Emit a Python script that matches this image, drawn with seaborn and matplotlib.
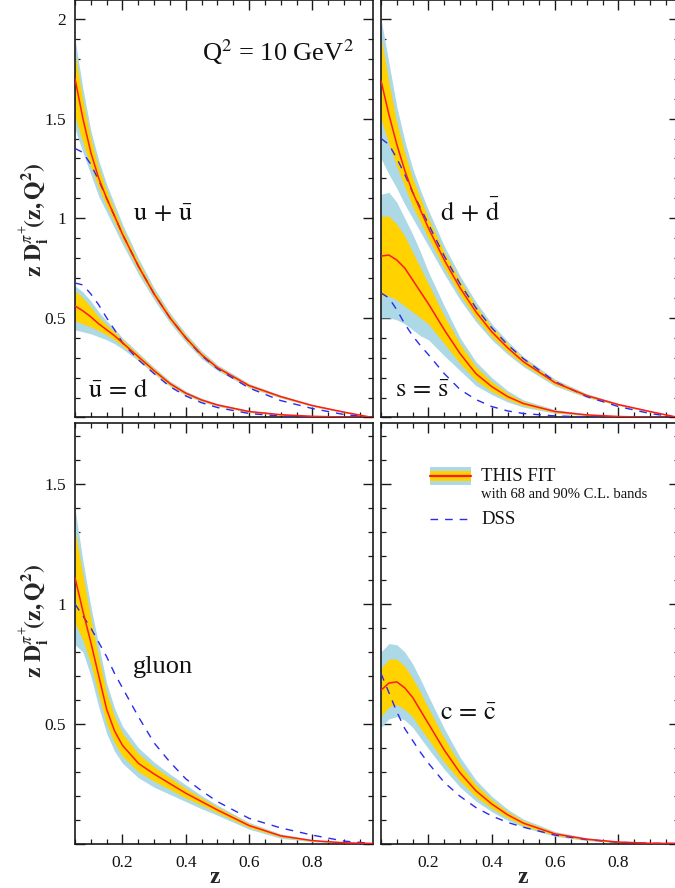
import numpy as np
import matplotlib
matplotlib.use("Agg")
import matplotlib.pyplot as plt
import seaborn as sns
from matplotlib.patches import Rectangle
from matplotlib.lines import Line2D
from matplotlib.ticker import MultipleLocator

# ---------------- data ----------------
z = [0.05, 0.075, 0.1, 0.125, 0.15, 0.175, 0.2, 0.25, 0.3, 0.35, 0.4, 0.45, 0.5, 0.6, 0.7, 0.8, 0.9, 0.99]

# u + ubar
uu_fit  = [1.70, 1.50, 1.33, 1.20, 1.10, 1.01, 0.92, 0.76, 0.62, 0.50, 0.40, 0.315, 0.25, 0.16, 0.105, 0.06, 0.027, 0.0]
uu_68hi = [1.83, 1.59, 1.40, 1.25, 1.14, 1.04, 0.945, 0.78, 0.635, 0.513, 0.412, 0.325, 0.258, 0.166, 0.109, 0.063, 0.029, 0.0]
uu_68lo = [1.51, 1.38, 1.26, 1.15, 1.06, 0.98, 0.895, 0.74, 0.605, 0.487, 0.388, 0.305, 0.242, 0.154, 0.101, 0.057, 0.025, 0.0]
uu_90hi = [1.90, 1.65, 1.44, 1.29, 1.17, 1.07, 0.97, 0.80, 0.65, 0.525, 0.422, 0.335, 0.265, 0.171, 0.112, 0.065, 0.030, 0.0]
uu_90lo = [1.45, 1.33, 1.22, 1.11, 1.03, 0.95, 0.87, 0.72, 0.59, 0.475, 0.378, 0.295, 0.235, 0.149, 0.098, 0.055, 0.024, 0.0]
uu_dss  = [1.35, 1.33, 1.27, 1.19, 1.10, 1.01, 0.92, 0.76, 0.62, 0.50, 0.40, 0.31, 0.245, 0.148, 0.085, 0.045, 0.015, 0.0]

# ubar = d
ub_fit  = [0.56, 0.535, 0.505, 0.47, 0.44, 0.41, 0.375, 0.305, 0.235, 0.17, 0.122, 0.088, 0.063, 0.030, 0.014, 0.006, 0.002, 0.0]
ub_68hi = [0.635, 0.60, 0.555, 0.505, 0.465, 0.43, 0.39, 0.317, 0.245, 0.178, 0.128, 0.093, 0.067, 0.033, 0.016, 0.007, 0.002, 0.0]
ub_68lo = [0.485, 0.47, 0.455, 0.435, 0.415, 0.39, 0.36, 0.293, 0.225, 0.162, 0.116, 0.083, 0.059, 0.027, 0.012, 0.005, 0.001, 0.0]
ub_90hi = [0.66, 0.63, 0.585, 0.53, 0.485, 0.445, 0.40, 0.325, 0.252, 0.184, 0.133, 0.097, 0.070, 0.035, 0.017, 0.008, 0.003, 0.0]
ub_90lo = [0.44, 0.43, 0.42, 0.405, 0.39, 0.37, 0.345, 0.285, 0.218, 0.156, 0.111, 0.079, 0.056, 0.025, 0.011, 0.004, 0.001, 0.0]
ub_dss  = [0.675, 0.665, 0.62, 0.565, 0.50, 0.44, 0.375, 0.29, 0.22, 0.155, 0.108, 0.074, 0.050, 0.020, 0.007, 0.002, 0.0, 0.0]

# d + dbar
dd_fit  = [1.69, 1.52, 1.37, 1.24, 1.13, 1.04, 0.95, 0.79, 0.65, 0.53, 0.43, 0.35, 0.28, 0.175, 0.11, 0.065, 0.030, 0.0]
dd_68hi = [1.91, 1.68, 1.48, 1.33, 1.20, 1.10, 1.00, 0.83, 0.685, 0.56, 0.455, 0.37, 0.295, 0.185, 0.116, 0.068, 0.032, 0.0]
dd_68lo = [1.50, 1.37, 1.26, 1.16, 1.06, 0.98, 0.90, 0.75, 0.615, 0.50, 0.405, 0.33, 0.265, 0.165, 0.104, 0.062, 0.028, 0.0]
dd_90hi = [2.00, 1.78, 1.56, 1.39, 1.25, 1.14, 1.04, 0.86, 0.71, 0.58, 0.47, 0.383, 0.305, 0.192, 0.12, 0.070, 0.033, 0.0]
dd_90lo = [1.30, 1.22, 1.15, 1.07, 1.00, 0.93, 0.86, 0.72, 0.59, 0.48, 0.39, 0.317, 0.255, 0.158, 0.10, 0.060, 0.027, 0.0]
dd_dss  = [1.40, 1.37, 1.30, 1.22, 1.13, 1.05, 0.97, 0.81, 0.67, 0.55, 0.45, 0.365, 0.295, 0.18, 0.105, 0.055, 0.020, 0.0]

# s = sbar
ss_fit  = [0.81, 0.815, 0.79, 0.75, 0.69, 0.63, 0.57, 0.44, 0.32, 0.22, 0.155, 0.105, 0.07, 0.03, 0.013, 0.005, 0.001, 0.0]
ss_68hi = [1.01, 1.01, 0.97, 0.91, 0.83, 0.75, 0.67, 0.51, 0.37, 0.255, 0.18, 0.122, 0.08, 0.035, 0.015, 0.006, 0.001, 0.0]
ss_68lo = [0.61, 0.61, 0.59, 0.56, 0.53, 0.50, 0.47, 0.37, 0.27, 0.185, 0.13, 0.09, 0.06, 0.025, 0.011, 0.004, 0.001, 0.0]
ss_90hi = [1.12, 1.13, 1.08, 1.00, 0.92, 0.83, 0.73, 0.56, 0.40, 0.28, 0.20, 0.135, 0.088, 0.04, 0.018, 0.007, 0.002, 0.0]
ss_90lo = [0.50, 0.50, 0.49, 0.47, 0.44, 0.41, 0.39, 0.31, 0.235, 0.16, 0.115, 0.078, 0.052, 0.021, 0.009, 0.003, 0.0, 0.0]
ss_dss  = [0.625, 0.60, 0.54, 0.47, 0.41, 0.36, 0.315, 0.22, 0.14, 0.09, 0.055, 0.033, 0.02, 0.008, 0.003, 0.001, 0.0, 0.0]

# gluon
gl_fit  = [1.11, 0.97, 0.84, 0.70, 0.56, 0.47, 0.41, 0.335, 0.29, 0.25, 0.21, 0.175, 0.14, 0.075, 0.032, 0.012, 0.003, 0.0]
gl_68hi = [1.31, 1.12, 0.94, 0.78, 0.63, 0.53, 0.46, 0.375, 0.32, 0.275, 0.23, 0.19, 0.152, 0.083, 0.036, 0.014, 0.004, 0.0]
gl_68lo = [0.92, 0.85, 0.75, 0.62, 0.50, 0.42, 0.365, 0.30, 0.26, 0.225, 0.19, 0.16, 0.128, 0.067, 0.027, 0.010, 0.002, 0.0]
gl_90hi = [1.40, 1.18, 0.99, 0.83, 0.67, 0.565, 0.49, 0.40, 0.34, 0.29, 0.245, 0.20, 0.16, 0.088, 0.040, 0.016, 0.005, 0.0]
gl_90lo = [0.83, 0.80, 0.70, 0.57, 0.46, 0.385, 0.335, 0.275, 0.235, 0.205, 0.175, 0.145, 0.118, 0.060, 0.022, 0.007, 0.001, 0.0]
gl_dss  = [1.00, 0.95, 0.90, 0.84, 0.78, 0.71, 0.65, 0.53, 0.42, 0.34, 0.27, 0.22, 0.175, 0.105, 0.065, 0.035, 0.010, 0.0]

# c = cbar
cc_fit  = [0.64, 0.67, 0.675, 0.65, 0.61, 0.555, 0.50, 0.39, 0.295, 0.22, 0.165, 0.12, 0.085, 0.04, 0.018, 0.006, 0.001, 0.0]
cc_68hi = [0.73, 0.77, 0.77, 0.74, 0.69, 0.63, 0.565, 0.44, 0.33, 0.245, 0.183, 0.133, 0.095, 0.046, 0.021, 0.008, 0.002, 0.0]
cc_68lo = [0.53, 0.57, 0.58, 0.56, 0.53, 0.48, 0.435, 0.34, 0.26, 0.195, 0.147, 0.107, 0.075, 0.034, 0.015, 0.004, 0.0005, 0.0]
cc_90hi = [0.80, 0.835, 0.83, 0.80, 0.75, 0.685, 0.615, 0.48, 0.36, 0.265, 0.197, 0.143, 0.102, 0.05, 0.024, 0.009, 0.002, 0.0]
cc_90lo = [0.485, 0.52, 0.53, 0.515, 0.485, 0.44, 0.395, 0.31, 0.235, 0.177, 0.133, 0.097, 0.068, 0.03, 0.012, 0.003, 0.0, 0.0]
cc_dss  = [0.71, 0.63, 0.55, 0.48, 0.43, 0.38, 0.335, 0.255, 0.197, 0.15, 0.115, 0.088, 0.068, 0.035, 0.016, 0.005, 0.001, 0.0]

x_ticks = [0.2, 0.4, 0.6, 0.8]
x_tick_labels = ["0.2", "0.4", "0.6", "0.8"]
y_ticks_top = [0, 0.5, 1, 1.5, 2]
y_tick_labels_top = ["", "0.5", "1", "1.5", "2"]
y_ticks_bot = [0, 0.5, 1, 1.5]
y_tick_labels_bot = ["", "0.5", "1", "1.5"]

# ---------------- style ----------------
sns.set_theme(style="white")
plt.rcParams["font.family"] = ["Liberation Serif", "DejaVu Serif"]
plt.rcParams["mathtext.fontset"] = "stix"

C_BLUE90 = "#add8e6"
C_YEL68 = "#ffd200"
C_RED = "#ff1a1a"
C_DSS = "#2a2af0"
C_AX = "#1a1a1a"

fig = plt.figure(figsize=(6.75, 8.88), dpi=100)
W, H = 675.0, 888.0

def pos(x0, x1, ytop, ybot):
    return [x0 / W, 1 - ybot / H, (x1 - x0) / W, (ybot - ytop) / H]

ax_tl = fig.add_axes(pos(75, 372.5, 0, 417.5))
ax_tr = fig.add_axes(pos(381, 678.5, 0, 417.5))
ax_bl = fig.add_axes(pos(75, 372.5, 423, 843.5))
ax_br = fig.add_axes(pos(381, 678.5, 423, 843.5))

def draw(ax, fit, lo68, hi68, lo90, hi90, dss):
    ax.fill_between(z, lo90, hi90, color=C_BLUE90, lw=0, zorder=1)
    ax.fill_between(z, lo68, hi68, color=C_YEL68, lw=0, zorder=2)
    sns.lineplot(x=z, y=dss, ax=ax, color=C_DSS, lw=1.0,
                 linestyle=(0, (5.5, 5.0)), zorder=3)
    sns.lineplot(x=z, y=fit, ax=ax, color=C_RED, lw=1.1, zorder=4)

draw(ax_tl, uu_fit, uu_68lo, uu_68hi, uu_90lo, uu_90hi, uu_dss)
draw(ax_tl, ub_fit, ub_68lo, ub_68hi, ub_90lo, ub_90hi, ub_dss)
draw(ax_tr, dd_fit, dd_68lo, dd_68hi, dd_90lo, dd_90hi, dd_dss)
draw(ax_tr, ss_fit, ss_68lo, ss_68hi, ss_90lo, ss_90hi, ss_dss)
draw(ax_bl, gl_fit, gl_68lo, gl_68hi, gl_90lo, gl_90hi, gl_dss)
draw(ax_br, cc_fit, cc_68lo, cc_68hi, cc_90lo, cc_90hi, cc_dss)

for ax, top in [(ax_tl, True), (ax_tr, True), (ax_bl, False), (ax_br, False)]:
    ax.set_xlim(0.05, 0.99)
    if top:
        ax.set_ylim(0, 2.095)
        ax.set_yticks(y_ticks_top)
        ax.set_yticklabels(y_tick_labels_top)
    else:
        ax.set_ylim(0, 1.756)
        ax.set_yticks(y_ticks_bot)
        ax.set_yticklabels(y_tick_labels_bot)
    ax.set_xticks(x_ticks)
    ax.set_xticklabels(x_tick_labels)
    ax.xaxis.set_minor_locator(MultipleLocator(0.05))
    ax.yaxis.set_minor_locator(MultipleLocator(0.1))
    ax.tick_params(which="both", direction="in", top=True, right=True,
                   bottom=True, left=True, color=C_AX, labelsize=12.5,
                   labelcolor="#111111")
    ax.tick_params(which="major", length=7, width=1.0)
    ax.tick_params(which="minor", length=3.6, width=0.9)
    ax.tick_params(axis="x", which="major", pad=8.5)
    ax.tick_params(axis="y", which="major", pad=6.5)
    for s in ax.spines.values():
        s.set_color(C_AX)
        s.set_linewidth(1.2)
    ax.set_facecolor("white")
    ax.set_xlabel("")
    ax.set_ylabel("")

# hide labels where the reference has none
for ax in (ax_tl, ax_tr):
    ax.tick_params(axis="x", labelbottom=False)
for ax in (ax_tr, ax_br):
    ax.tick_params(axis="y", labelleft=False)

ylab = r"$\mathbf{z\ D}_{\mathbf{i}}^{\pi^{+}}\!\mathbf{(z,Q^{2})}$"
for ax, yc in [(ax_tl, 0.473), (ax_bl, 0.53)]:
    ax.set_ylabel(ylab, fontsize=17, va="center")
    ax.yaxis.set_label_coords(-0.134, yc)

for ax, xc in [(ax_bl, 0.47), (ax_br, 0.478)]:
    ax.set_xlabel("z", fontsize=17, fontweight="bold", va="center")
    ax.xaxis.set_label_coords(xc, -0.082)

# panel annotations
lab_kw = dict(fontsize=19, color="#111111")
ax_tl.text(0.426, 0.854, r"Q$^{2}$ = 10 GeV$^{2}$", transform=ax_tl.transAxes,
           ha="left", va="baseline", **lab_kw)
ax_tl.text(0.194, 0.471, r"$\mathrm{u}\,+\,\bar{\mathrm{u}}$", transform=ax_tl.transAxes,
           ha="left", va="baseline", **lab_kw)
ax_tl.text(0.045, 0.05, r"$\bar{\mathrm{u}}\,=\,\mathrm{d}$", transform=ax_tl.transAxes,
           ha="left", va="baseline", **lab_kw)
ax_tr.text(0.199, 0.471, r"$\mathrm{d}\,+\,\bar{\mathrm{d}}$", transform=ax_tr.transAxes,
           ha="left", va="baseline", **lab_kw)
ax_tr.text(0.047, 0.05, r"$\mathrm{s}\,=\,\bar{\mathrm{s}}$", transform=ax_tr.transAxes,
           ha="left", va="baseline", **lab_kw)
ax_bl.text(0.195, 0.405, "gluon", transform=ax_bl.transAxes,
           ha="left", va="baseline", **lab_kw)
ax_br.text(0.199, 0.294, r"$\mathrm{c}\,=\,\bar{\mathrm{c}}$", transform=ax_br.transAxes,
           ha="left", va="baseline", **lab_kw)

# legend (bottom-right panel)
lx0, lw_, lyc = 0.165, 0.138, 0.874
ax_br.add_patch(Rectangle((lx0, lyc - 0.0225), lw_, 0.045, transform=ax_br.transAxes,
                          facecolor=C_BLUE90, edgecolor="none", zorder=5))
ax_br.add_patch(Rectangle((lx0, lyc - 0.013), lw_, 0.026, transform=ax_br.transAxes,
                          facecolor=C_YEL68, edgecolor="none", zorder=6))
ax_br.add_line(Line2D([lx0, lx0 + lw_], [lyc, lyc], transform=ax_br.transAxes,
                      color=C_RED, lw=1.6, zorder=7))
ax_br.add_line(Line2D([lx0, lx0 + lw_], [0.771, 0.771], transform=ax_br.transAxes,
                      color=C_DSS, lw=1.0, linestyle=(0, (5.5, 5.0)), zorder=7))
ax_br.text(0.337, 0.872, "THIS FIT", transform=ax_br.transAxes, fontsize=13.5,
           ha="left", va="center", color="#111111")
ax_br.text(0.337, 0.829, "with 68 and 90% C.L. bands", transform=ax_br.transAxes,
           fontsize=10.5, ha="left", va="center", color="#111111")
ax_br.text(0.337, 0.771, "DSS", transform=ax_br.transAxes, fontsize=13.5,
           ha="left", va="center", color="#111111")

fig.savefig("out.png", dpi=100)
